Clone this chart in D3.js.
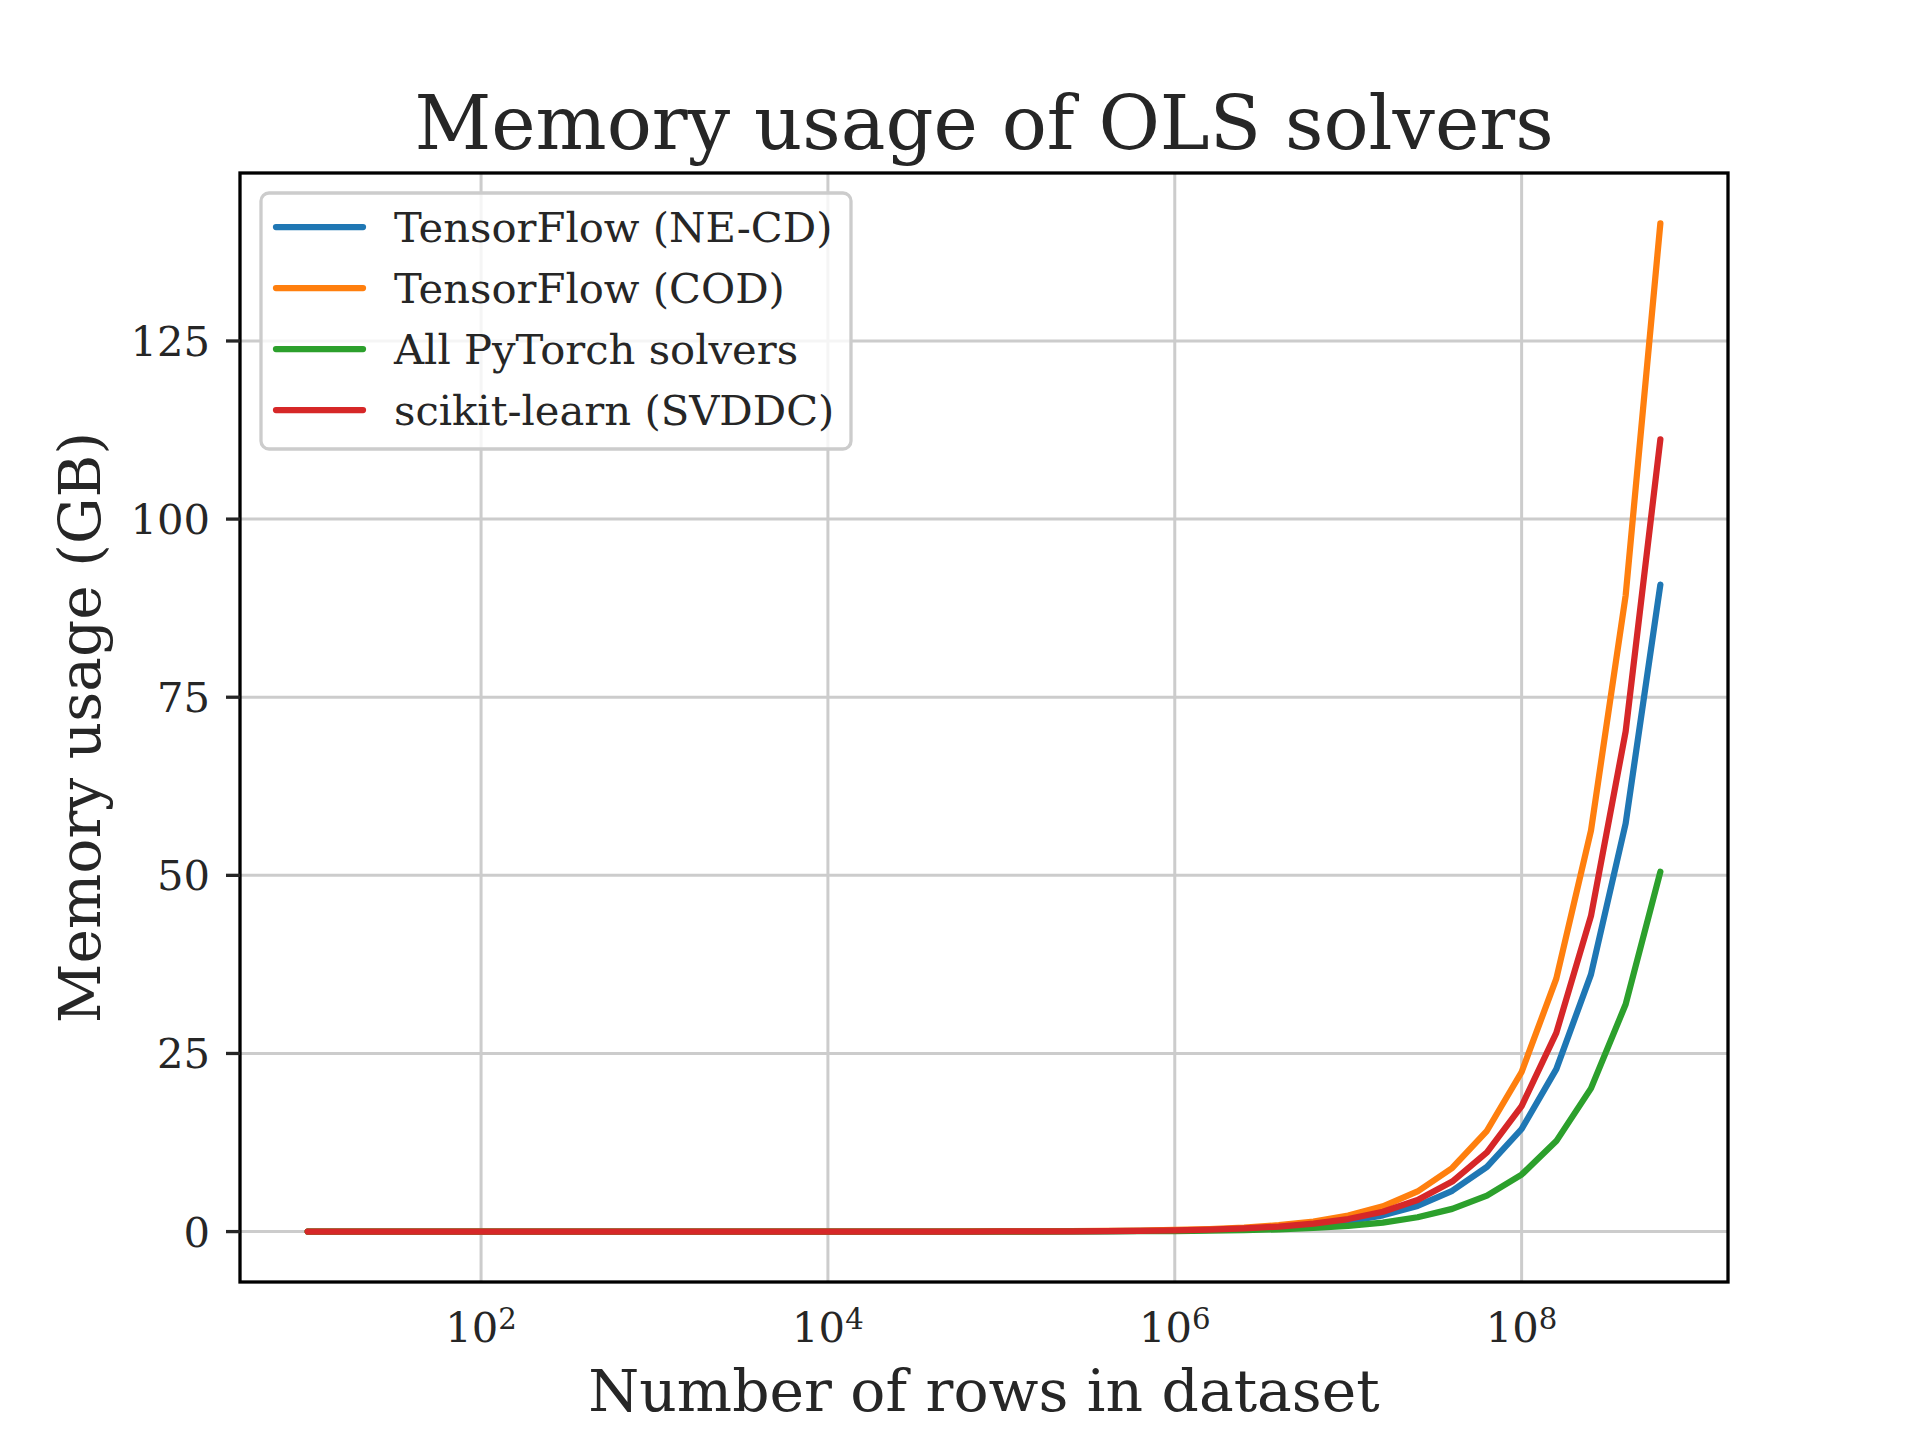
<!DOCTYPE html>
<html>
<head>
<meta charset="utf-8">
<script src="https://cdn.jsdelivr.net/npm/d3@7"></script>
<style>
  html, body { margin: 0; padding: 0; background: #ffffff; }
  svg { display: block; }
  text { font-family: "DejaVu Serif", serif; fill: #262626; }
</style>
</head>
<body>
<svg id="chart" width="1920" height="1440"></svg>
<script>
// ---- data ----
const rows = [
  10, 15.85, 25.12, 39.81, 63.1,
  100, 158.5, 251.2, 398.1, 631,
  1e3, 1585, 2512, 3981, 6310,
  1e4, 15850, 25120, 39810, 63100,
  1e5, 158500, 251200, 398100, 631000,
  1e6, 1.585e6, 2.512e6, 3.981e6, 6.31e6,
  1e7, 1.585e7, 2.512e7, 3.981e7, 6.31e7,
  1e8, 1.585e8, 2.512e8, 3.981e8, 6.31e8
];
const tfNECD = [
  1.44e-6, 2.28e-6, 3.61e-6, 5.73e-6, 9.08e-6,
  1.44e-5, 2.28e-5, 3.61e-5, 5.73e-5, 9.08e-5,
  1.44e-4, 2.28e-4, 3.61e-4, 5.73e-4, 9.08e-4,
  0.00144, 0.00228, 0.00361, 0.00573, 0.00908,
  0.0144, 0.0228, 0.0361, 0.0573, 0.0908,
  0.144, 0.228, 0.361, 0.573, 0.908,
  1.44, 2.28, 3.61, 5.73, 9.08,
  14.4, 22.8, 36.1, 57.3, 90.8
];
const tfCOD = [
  2.24e-6, 3.55e-6, 5.63e-6, 8.93e-6, 1.415e-5,
  2.24e-5, 3.55e-5, 5.63e-5, 8.93e-5, 1.415e-4,
  2.24e-4, 3.55e-4, 5.63e-4, 8.93e-4, 0.001415,
  0.00224, 0.00355, 0.00563, 0.00893, 0.01415,
  0.0224, 0.0355, 0.0563, 0.0893, 0.1415,
  0.224, 0.355, 0.563, 0.893, 1.415,
  2.24, 3.55, 5.63, 8.93, 14.15,
  22.4, 35.5, 56.3, 89.3, 141.5
];
const pytorch = [
  8.0e-7, 1.27e-6, 2.01e-6, 3.19e-6, 5.05e-6,
  8.0e-6, 1.27e-5, 2.01e-5, 3.19e-5, 5.05e-5,
  8.0e-5, 1.27e-4, 2.01e-4, 3.19e-4, 5.05e-4,
  8.0e-4, 0.00127, 0.00201, 0.00319, 0.00505,
  0.0080, 0.0127, 0.0201, 0.0319, 0.0505,
  0.080, 0.127, 0.201, 0.319, 0.505,
  0.80, 1.27, 2.01, 3.19, 5.05,
  8.0, 12.7, 20.1, 31.9, 50.5
];
const sklearn = [
  1.76e-6, 2.79e-6, 4.43e-6, 7.02e-6, 1.112e-5,
  1.76e-5, 2.79e-5, 4.43e-5, 7.02e-5, 1.112e-4,
  1.76e-4, 2.79e-4, 4.43e-4, 7.02e-4, 0.001112,
  0.00176, 0.00279, 0.00443, 0.00702, 0.01112,
  0.0176, 0.0279, 0.0443, 0.0702, 0.1112,
  0.176, 0.279, 0.443, 0.702, 1.112,
  1.76, 2.79, 4.43, 7.02, 11.12,
  17.6, 27.9, 44.3, 70.2, 111.2
];
const seriesNames = ["TensorFlow (NE-CD)", "TensorFlow (COD)", "All PyTorch solvers", "scikit-learn (SVDDC)"];
const seriesColors = ["#1f77b4", "#ff7f0e", "#2ca02c", "#d62728"];
const yTicks = [0, 25, 50, 75, 100, 125];
const xTickExps = [2, 4, 6, 8];
const titleText = "Memory usage of OLS solvers";
const xLabelText = "Number of rows in dataset";
const yLabelText = "Memory usage (GB)";

// ---- layout ----
const svg = d3.select("#chart");
const plot = { left: 240, right: 1728, top: 173, bottom: 1282 };
const allSeries = [tfNECD, tfCOD, pytorch, sklearn];

// matplotlib-style 5% margins
const lx = d3.extent(rows, d => Math.log10(d));
const mx = (lx[1] - lx[0]) * 0.05;
const x = d3.scaleLog().domain([Math.pow(10, lx[0] - mx), Math.pow(10, lx[1] + mx)]).range([plot.left, plot.right]);
const ymax = d3.max(allSeries, s => d3.max(s));
const ymin = 0;
const my = (ymax - ymin) * 0.05;
const y = d3.scaleLinear().domain([ymin - my, ymax + my]).range([plot.bottom, plot.top]);

// background
svg.append("rect").attr("x", plot.left).attr("y", plot.top)
  .attr("width", plot.right - plot.left).attr("height", plot.bottom - plot.top)
  .attr("fill", "#ffffff");

// grid
const grid = svg.append("g");
grid.selectAll("line.gy").data(yTicks).enter().append("line")
  .attr("x1", plot.left).attr("x2", plot.right)
  .attr("y1", d => y(d)).attr("y2", d => y(d))
  .attr("stroke", "#cccccc").attr("stroke-width", 3);
grid.selectAll("line.gx").data(xTickExps).enter().append("line")
  .attr("x1", d => x(Math.pow(10, d))).attr("x2", d => x(Math.pow(10, d)))
  .attr("y1", plot.top).attr("y2", plot.bottom)
  .attr("stroke", "#cccccc").attr("stroke-width", 3);

// lines
svg.append("clipPath").attr("id", "clip").append("rect")
  .attr("x", plot.left).attr("y", plot.top)
  .attr("width", plot.right - plot.left).attr("height", plot.bottom - plot.top);
const lineGen = d3.line().x((d, i) => x(rows[i])).y(d => y(d));
const lines = svg.append("g").attr("clip-path", "url(#clip)");
allSeries.forEach((s, i) => {
  lines.append("path").datum(s)
    .attr("d", lineGen)
    .attr("fill", "none")
    .attr("stroke", seriesColors[i])
    .attr("stroke-width", 6.25)
    .attr("stroke-linecap", "round")
    .attr("stroke-linejoin", "round");
});

// frame
svg.append("rect").attr("x", plot.left).attr("y", plot.top)
  .attr("width", plot.right - plot.left).attr("height", plot.bottom - plot.top)
  .attr("fill", "none").attr("stroke", "#000000").attr("stroke-width", 3.3);

// y axis ticks + labels
const yAxis = svg.append("g");
yAxis.selectAll("line.t").data(yTicks).enter().append("line")
  .attr("x1", plot.left - 14).attr("x2", plot.left)
  .attr("y1", d => y(d)).attr("y2", d => y(d))
  .attr("stroke", "#262626").attr("stroke-width", 3.3);
yAxis.selectAll("text").data(yTicks).enter().append("text")
  .attr("x", plot.left - 30).attr("y", d => y(d))
  .attr("dy", "0.36em")
  .attr("text-anchor", "end")
  .attr("font-size", 41.7)
  .text(d => d);

// x axis tick labels (10^n)
const xAxis = svg.append("g");
xTickExps.forEach(e => {
  const t = xAxis.append("text")
    .attr("x", x(Math.pow(10, e)))
    .attr("y", 1342)
    .attr("text-anchor", "middle")
    .attr("font-size", 41.7);
  t.append("tspan").text("10");
  t.append("tspan").attr("dy", -13).attr("font-size", 29.2).text(String(e));
});

// title
svg.append("text").attr("x", (plot.left + plot.right) / 2).attr("y", 149)
  .attr("text-anchor", "middle").attr("font-size", 75).text(titleText);

// axis labels
svg.append("text").attr("x", (plot.left + plot.right) / 2).attr("y", 1411)
  .attr("text-anchor", "middle").attr("font-size", 58.3).text(xLabelText);
svg.append("text")
  .attr("transform", `translate(100, ${(plot.top + plot.bottom) / 2}) rotate(-90)`)
  .attr("text-anchor", "middle").attr("font-size", 58.3).text(yLabelText);

// legend
const leg = svg.append("g");
leg.append("rect").attr("x", 261).attr("y", 193).attr("width", 590).attr("height", 256)
  .attr("rx", 8).attr("ry", 8)
  .attr("fill", "#ffffff").attr("fill-opacity", 0.8)
  .attr("stroke", "#cccccc").attr("stroke-width", 3.3);
seriesNames.forEach((name, i) => {
  const cy = 227 + i * 61;
  leg.append("line").attr("x1", 276).attr("x2", 363).attr("y1", cy).attr("y2", cy)
    .attr("stroke", seriesColors[i]).attr("stroke-width", 6.25).attr("stroke-linecap", "round");
  leg.append("text").attr("x", 394).attr("y", cy + 15).attr("font-size", 41.7).text(name);
});
</script>
</body>
</html>
